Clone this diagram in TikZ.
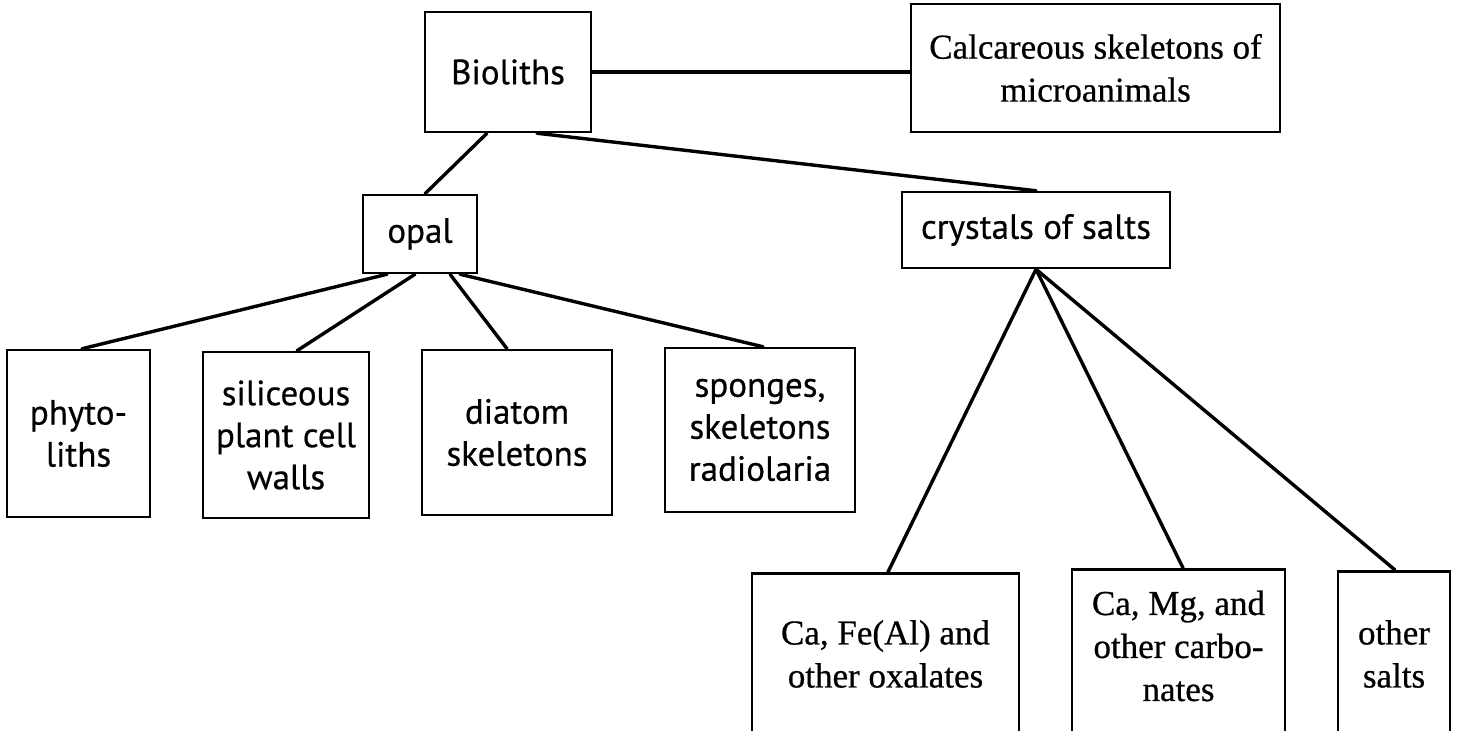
\documentclass[tikz,border=0pt]{standalone}
\usepackage{fontspec}
\setmainfont{Liberation Serif}[FakeBold=0.6]
\newfontfamily\humanist{PT Sans}[FakeBold=0.5]
\begin{document}
\begin{tikzpicture}[x=0.5pt,y=-0.5pt,
  box/.style={draw, line width=1.25pt, inner sep=0pt, align=center},
  sanslabel/.style={font=\humanist\fontsize{17.5pt}{21pt}\selectfont},
  seriflabel/.style={font=\fontsize{17.5pt}{21.5pt}\selectfont, align=center},
  link/.style={line width=1.7pt, line cap=round}]
\useasboundingbox (0,0) rectangle (1459,731);
\fill[white] (0,0) rectangle (1459,731);
\clip (0,0) rectangle (1459,731);

% top level
\node[box, sanslabel, minimum width=83pt, minimum height=60pt] (bio) at (508,72) {Bioliths};
\node[box, seriflabel, minimum width=184.5pt, minimum height=64pt] (calcar) at (1095.5,68) {Calcareous skeletons of\\microanimals};

% second level
\node[box, sanslabel, minimum width=57pt, minimum height=39pt] (opal) at (420,234) {opal};
\node[box, sanslabel, minimum width=134pt, minimum height=38pt] (cryst) at (1036,230) {crystals of salts};

% opal group
\node[box, sanslabel, minimum width=71.5pt, minimum height=83.5pt] (phyto) at (78.5,433.5) {phyto-\\liths};
\node[box, sanslabel, minimum width=83pt, minimum height=83pt] (silic) at (286,435) {siliceous\\plant cell\\walls};
\node[box, sanslabel, minimum width=95pt, minimum height=82.5pt] (diatom) at (517,432.5) {diatom\\skeletons};
\node[box, sanslabel, minimum width=95pt, minimum height=82pt] (sponge) at (760,430) {sponges,\\skeletons\\radiolaria};

% salt group (boxes run past the lower edge)
\node[box, minimum width=133.5pt, minimum height=100pt, anchor=north] (oxal) at (885.5,572) {};
\node[seriflabel] (oxal-t) at (885.5,654) {Ca, Fe(Al) and\\other oxalates};
\node[box, minimum width=106.5pt, minimum height=100pt, anchor=north] (carb) at (1178.5,568) {};
\node[seriflabel] (carb-t) at (1178.5,646) {Ca, Mg, and\\other carbo-\\nates};
\node[box, minimum width=56pt, minimum height=100pt, anchor=north] (other) at (1394,570) {};
\node[seriflabel] (other-t) at (1394,654) {other\\salts};

% connectors
\draw[link] (bio.east) -- (bio.east -| calcar.west);
\draw[link] ([xshift=-10.5pt]bio.south) -- ([xshift=2.5pt]opal.north);
\draw[link] ([xshift=14.5pt]bio.south) -- (cryst.north);

\draw[link] ([xshift=-16.5pt]opal.south) -- ([xshift=1.75pt]phyto.north);
\draw[link] ([xshift=-2.5pt]opal.south) -- ([xshift=5.5pt]silic.north);
\draw[link] ([xshift=15pt]opal.south) -- ([xshift=-5pt]diatom.north);
\draw[link] ([xshift=20pt]opal.south) -- ([xshift=1.5pt]sponge.north);

\draw[link] (cryst.south) -- ([xshift=1.25pt]oxal.north);
\draw[link] (cryst.south) -- ([xshift=2.25pt]carb.north);
\draw[link] (cryst.south) -- ([xshift=0.5pt]other.north);
\end{tikzpicture}
\end{document}
